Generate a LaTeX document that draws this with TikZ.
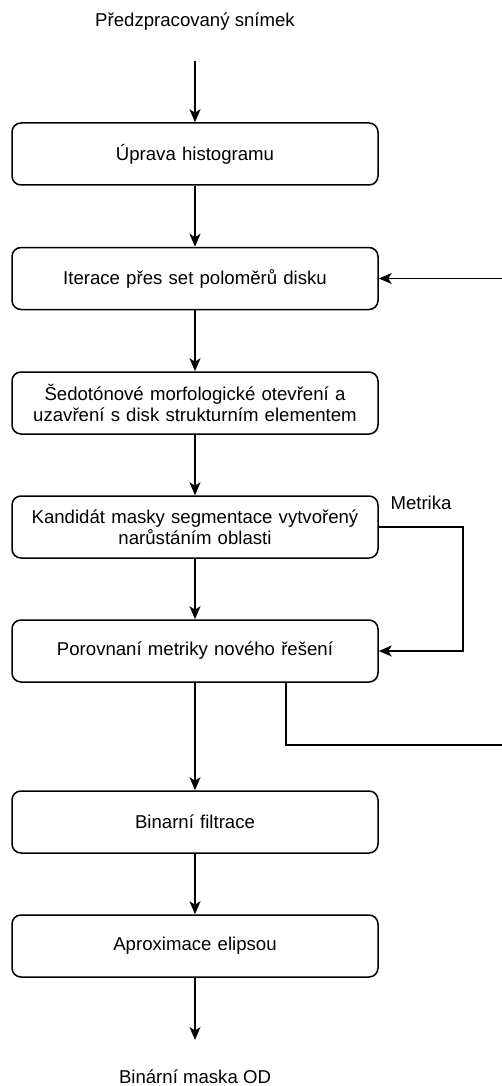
\documentclass[tikz,border=0pt]{standalone}
\usepackage{fontspec}
\setmainfont{Liberation Sans}
\usetikzlibrary{arrows.meta}
\begin{document}
\begin{tikzpicture}[x=1pt,y=-1pt,
  every node/.style={font=\fontsize{18.6}{21.5}\selectfont},
  stepbox/.style={draw, line width=1.5pt, rounded corners=9pt,
    minimum width=366pt, minimum height=62pt, inner sep=0pt,
    align=center, text width=356pt},
  label/.style={inner sep=0pt},
  flow/.style={line width=1.5pt, -{Stealth[length=13pt,width=11pt,inset=3.5pt]}},
  plain/.style={line width=1.5pt}]
  \useasboundingbox (0,0) rectangle (502,1086);

  % input and output labels
  \node[label] (in)  at (195,22)   {Předzpracovaný snímek};
  \node[label] (out) at (195,1077) {Binární maska OD};

  % processing steps
  \node[stepbox] (b1) at (195,154)   {Úprava histogramu};
  \node[stepbox] (b2) at (195,278.5) {Iterace přes set poloměrů disku};
  \node[stepbox] (b3) at (195,403)   {Šedotónové morfologické otevření a\\uzavření s disk strukturním elementem};
  \node[stepbox] (b4) at (195,527)   {Kandidát masky segmentace vytvořený\\narůstáním oblasti};
  \node[stepbox] (b5) at (195,651)   {Porovnaní metriky nového řešení};
  \node[stepbox] (b6) at (195,822)   {Binarní filtrace};
  \node[stepbox] (b7) at (195,946)   {Aproximace elipsou};

  % loop ends leaving the picture on the right
  \coordinate (loopin)  at (502,278.5);
  \coordinate (loopout) at (502,745);
  \coordinate (instart) at (195,61);
  \coordinate (outend)  at (195,1040);

  % main flow
  \draw[flow] (instart) -- (b1.north);
  \draw[flow] (b1) -- (b2);
  \draw[flow] (b2) -- (b3);
  \draw[flow] (b3) -- (b4);
  \draw[flow] (b4) -- (b5);
  \draw[flow] (b5) -- (b6);
  \draw[flow] (b6) -- (b7);
  \draw[flow] (b7.south) -- (outend);

  % metric feedback
  \draw[flow] (b4.east) -- (463,527) -- (463,651) -- (b5.east);
  \node[label] (metrika) at (421,503) {Metrika};

  % iteration loop
  \draw[flow] (loopin) -- (b2.east);
  \draw[plain] (286,682) -- (286,745) -- (loopout);
\end{tikzpicture}
\end{document}
